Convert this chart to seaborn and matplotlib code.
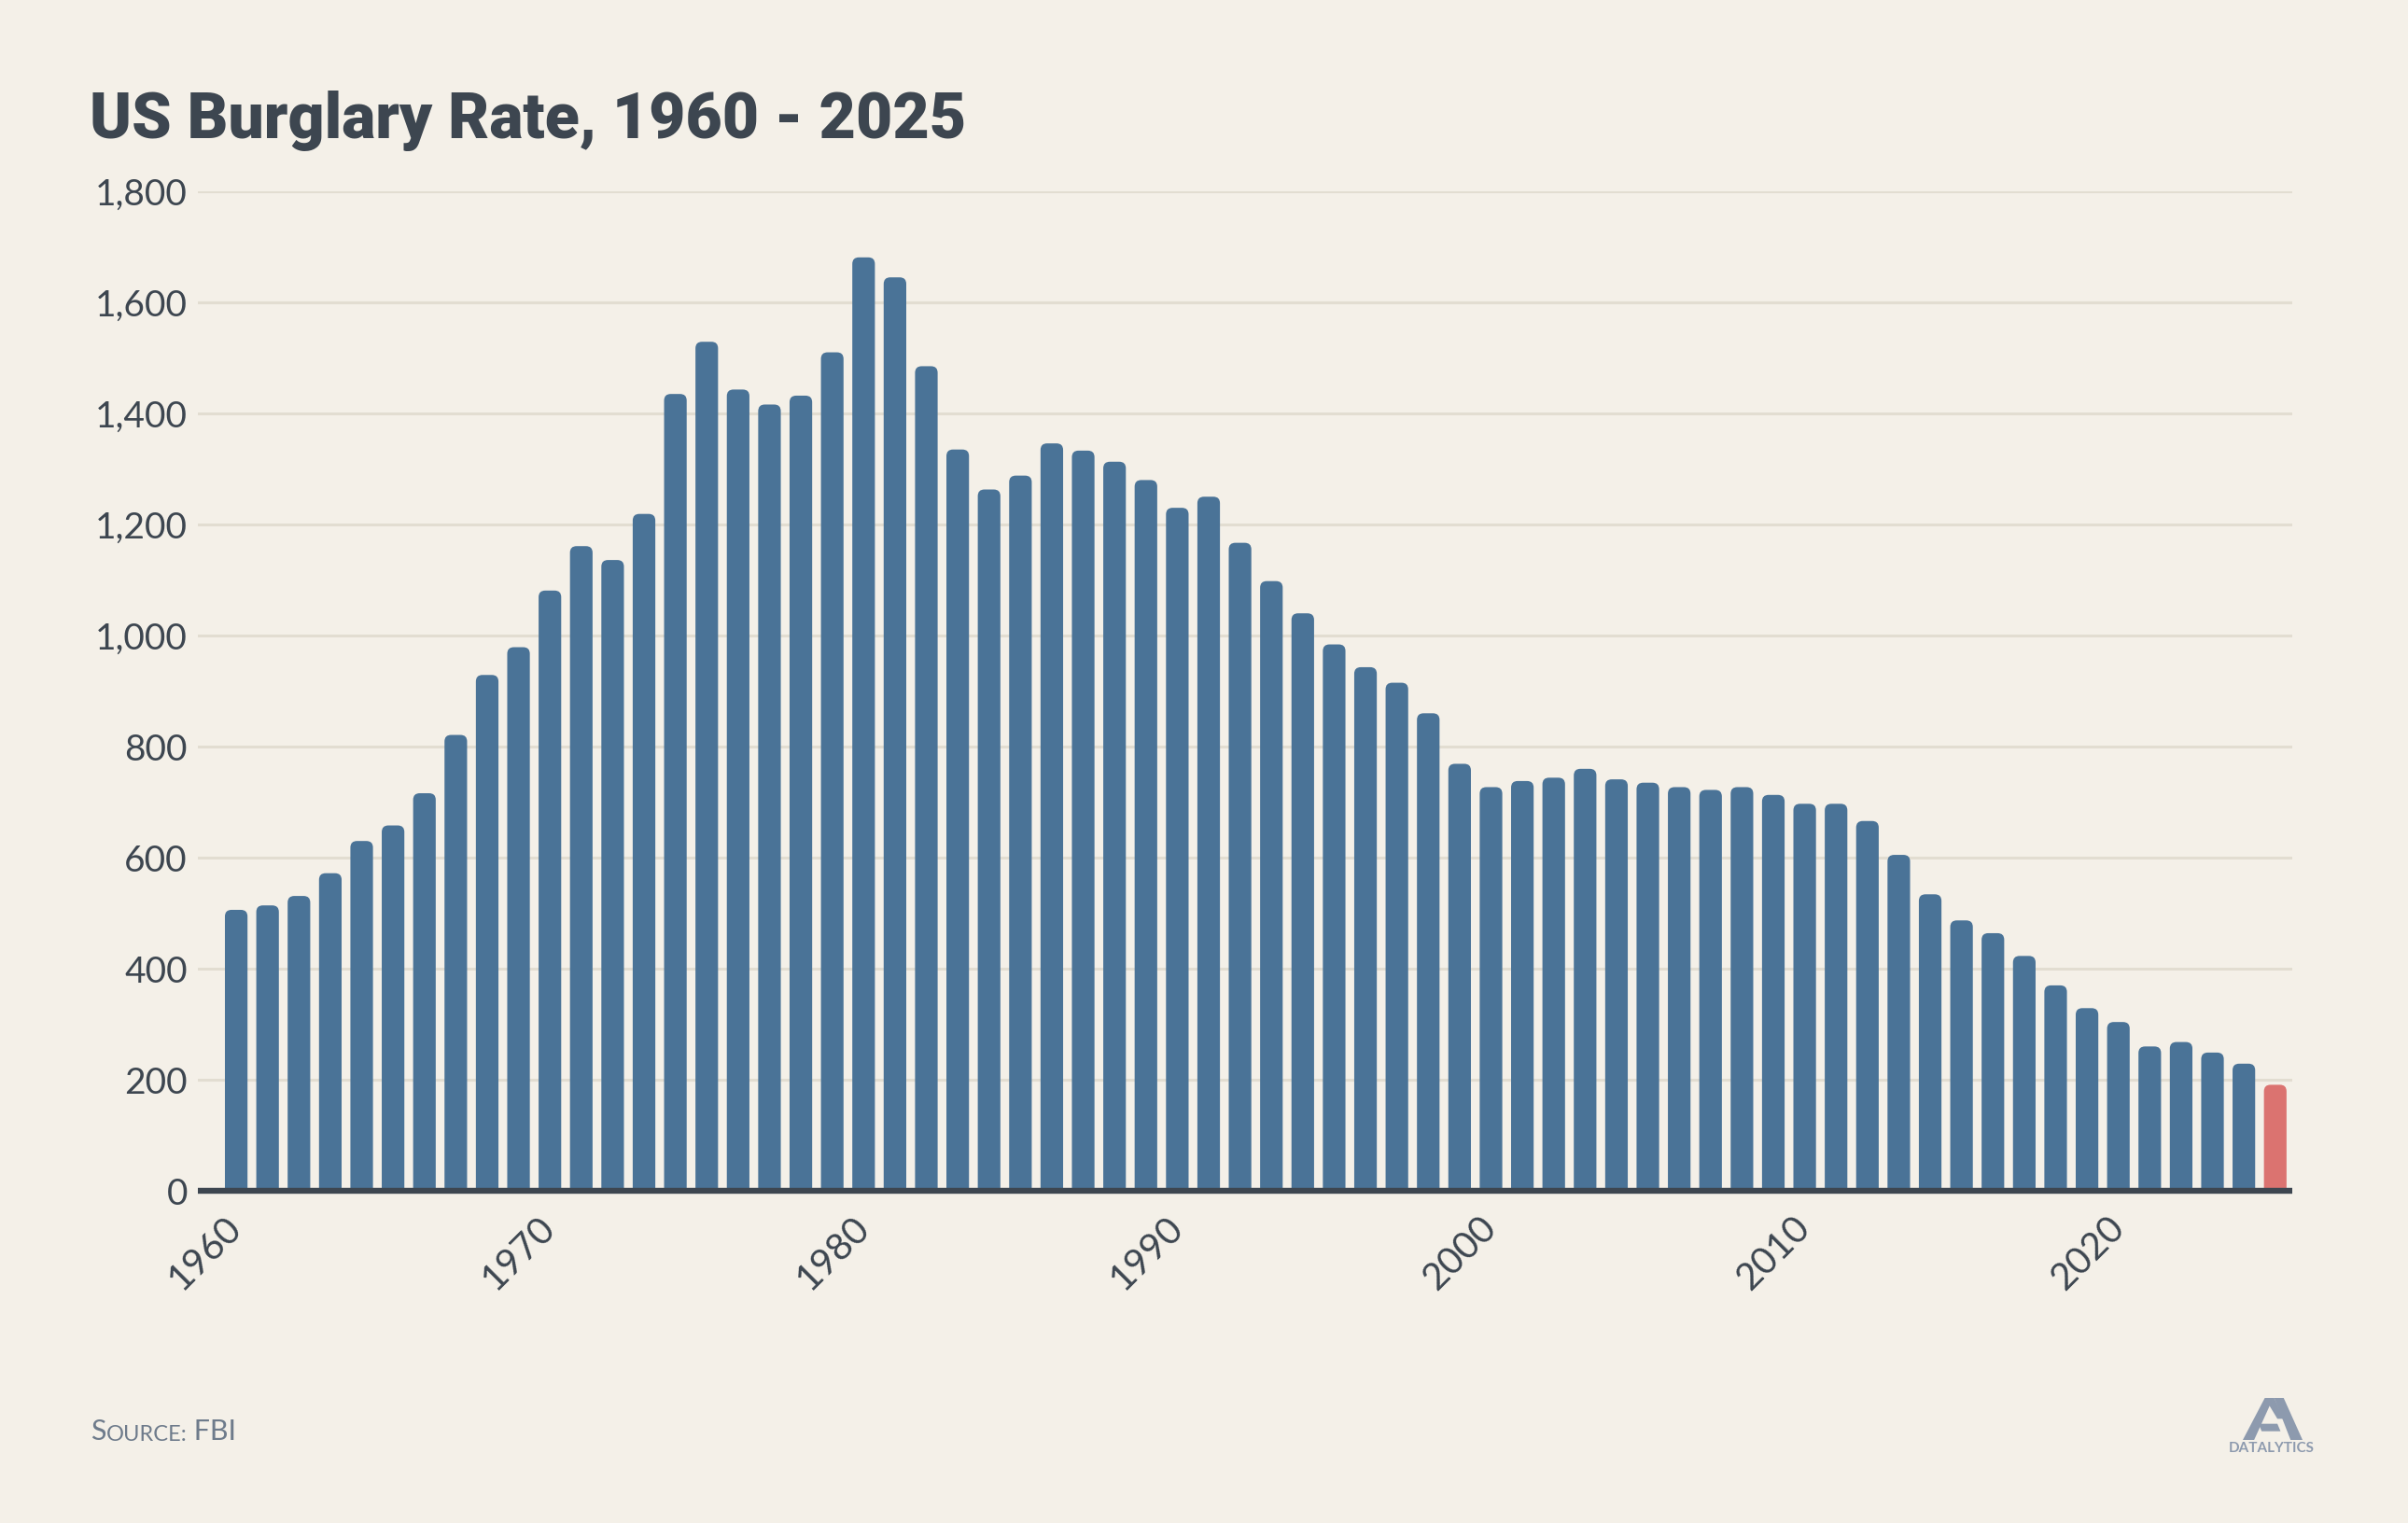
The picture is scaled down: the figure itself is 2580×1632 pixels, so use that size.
import numpy as np
import pandas as pd
import matplotlib
matplotlib.use("Agg")
import matplotlib.pyplot as plt
from matplotlib.patches import FancyBboxPatch, Polygon
from matplotlib.ticker import FuncFormatter
import seaborn as sns

# burglaries per 100k inhabitants
years = list(range(1960, 2026))
rates = [
    506, 514, 531, 572, 630, 658, 716, 821, 929, 979,
    1081, 1161, 1136, 1219, 1435, 1529, 1443, 1416, 1432, 1510,
    1681, 1645, 1485, 1335, 1263, 1288, 1346, 1333, 1313, 1280,
    1230, 1250, 1167, 1098, 1040, 984, 943, 915, 860, 769,
    727, 738, 744, 760, 741, 735, 727, 722, 727, 713,
    697, 697, 666, 605, 534, 487, 464, 423, 370, 329,
    304, 260, 268, 249, 229, 191,
]
highlight = ["past"] * 65 + ["latest"]
tick_years = [1960, 1970, 1980, 1990, 2000, 2010, 2020]
y_ticks = [0, 200, 400, 600, 800, 1000, 1200, 1400, 1600, 1800]

BG = "#F4F0E8"
BLUE = "#4A7397"
RED = "#DB7370"
INK = "#3D4650"
GRID = "#E2DDD1"
MUTED = "#6E7B8B"

df = pd.DataFrame({"year": [str(y) for y in years], "rate": rates, "kind": highlight})

sns.set_theme(style="white")
plt.rcParams["font.family"] = ["Lato", "DejaVu Sans"]

fig = plt.figure(figsize=(25.8, 16.32), dpi=100, facecolor=BG)
ax = fig.add_axes([0.0822, 0.2181, 0.9519 - 0.0822, 0.8744 - 0.2181])
ax.set_facecolor(BG)

sns.barplot(data=df, x="year", y="rate", hue="kind",
            palette={"past": BLUE, "latest": RED}, saturation=1,
            width=0.72, legend=False, dodge=False, ax=ax)

# swap plain bars for ones with rounded tops
aspect = 56
for p in list(ax.patches):
    x0, w, h = p.get_x(), p.get_width(), p.get_height()
    if np.isnan(h):
        continue
    rb = FancyBboxPatch((x0, -40), w, h + 40,
                        boxstyle="round,pad=0,rounding_size=0.21",
                        mutation_aspect=aspect,
                        facecolor=p.get_facecolor(), edgecolor="none",
                        zorder=2)
    p.remove()
    ax.add_patch(rb)

ax.set_xlim(-1.22, 65.54)
ax.set_ylim(0, 1800)

ax.set_yticks(y_ticks)
ax.yaxis.set_major_formatter(FuncFormatter(lambda v, _: f"{int(v):,}"))
for t in y_ticks[1:]:
    ax.axhline(t, color=GRID, lw=2.2, zorder=0)
ax.axhline(0, color=INK, lw=4.6, zorder=3, solid_capstyle="butt", clip_on=False)

pos = [years.index(y) for y in tick_years]
ax.set_xticks(pos)
ax.set_xticklabels([str(y) for y in tick_years], rotation=45, ha="right",
                   va="center", rotation_mode="anchor")
ax.tick_params(axis="x", length=0, pad=24, labelsize=29, labelcolor=INK)
ax.tick_params(axis="y", length=0, pad=8, labelsize=28, labelcolor=INK)
ax.set_xlabel("")
ax.set_ylabel("")
sns.despine(ax=ax, left=True, bottom=True)

fig.text(96 / 2580, 1 - 148 / 1632, "US Burglary Rate, 1960 - 2025",
         fontsize=49, fontweight="heavy", color=INK, family=["Roboto", "DejaVu Sans"],
         ha="left", va="baseline")

# source line in small caps
s1 = fig.text(97 / 2580, 1 - 1543 / 1632, "S", fontsize=22, color=MUTED,
              ha="left", va="baseline")
s2 = ax.annotate("OURCE:", xy=(1, 0), xycoords=s1, fontsize=17, color=MUTED,
                 ha="left", va="bottom", annotation_clip=False)
ax.annotate(" FBI", xy=(1, 0), xycoords=s2, fontsize=22, color=MUTED,
            ha="left", va="bottom", annotation_clip=False)

# logo
lax = fig.add_axes([2403 / 2580, 1 - 1543 / 1632, 64 / 2580, 45 / 1632])
lax.set_xlim(310, 500)
lax.set_ylim(280, 145)
lax.axis("off")
LOGO = "#8D9AAE"
for pts in [
    [(310, 280), (346, 280), (400, 160), (380, 145)],
    [(410, 145), (440, 145), (500, 280), (462, 280)],
    [(360, 228), (420, 228), (430, 252), (370, 252)],
    [(380, 145), (410, 145), (440, 212), (420, 212)],
]:
    lax.add_patch(Polygon(pts, closed=True, facecolor=LOGO, edgecolor="none"))
fig.text(2434 / 2580, 1 - 1552 / 1632, "DATALYTICS", fontsize=11,
         fontweight="bold", color=LOGO, ha="center", va="center")

fig.savefig("out.png", dpi=100, facecolor=BG)
